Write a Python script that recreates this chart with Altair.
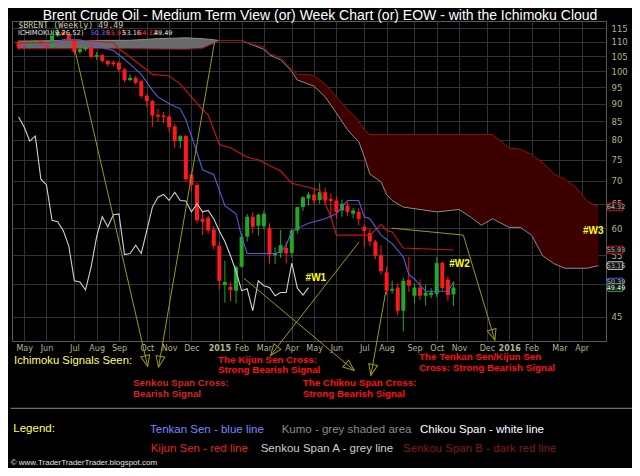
import altair as alt
import pandas as pd

# ---------------- weekly Brent candles (weeks starting Monday) ----------------
first_week = "2014-04-28"
opens = [110.0, 108.5, 108.0, 109.2, 110.3, 109.2, 108.4, 112.3, 113.6, 112.8,
         110.7, 106.5, 107.4, 108.2, 104.8, 105.4, 103.4, 103.0, 102.8, 100.6,
         97.2, 97.9, 96.8, 92.3, 90.8, 86.8, 86.6, 86.3, 83.6, 79.7,
         81.0, 71.5, 69.1, 61.9, 62.1, 59.8, 56.7, 49.9, 49.6, 49.0,
         53.0, 58.4, 62.3, 60.5, 60.4, 60.0, 55.0, 55.4, 56.3, 55.4,
         59.6, 64.3, 66.1, 67.0, 65.8, 67.5, 66.0, 65.7, 63.6, 64.6,
         62.9, 63.3, 60.3, 59.1, 57.5, 55.0, 52.0, 49.0, 49.5, 45.9,
         50.7, 48.2, 49.5, 48.2, 48.3, 48.5, 53.6, 50.8, 48.4]
highs = [110.6, 109.5, 110.0, 110.8, 110.5, 109.8, 113.2, 115.0, 114.5, 113.0,
         111.0, 108.3, 108.8, 108.6, 106.5, 106.0, 103.9, 103.6, 103.4, 101.0,
         99.0, 98.5, 97.3, 93.0, 91.0, 88.5, 87.6, 86.9, 84.3, 81.3,
         81.3, 72.2, 69.6, 63.5, 62.5, 60.5, 57.3, 54.0, 50.3, 53.2,
         59.0, 62.9, 63.2, 63.0, 63.6, 61.0, 56.4, 59.7, 57.5, 59.9,
         64.4, 66.6, 67.6, 68.3, 69.5, 68.5, 67.2, 66.6, 65.9, 65.4,
         64.1, 64.0, 60.8, 59.9, 57.8, 56.8, 53.0, 50.6, 50.2, 51.1,
         54.7, 50.1, 50.8, 49.9, 49.4, 54.7, 53.9, 51.3, 50.5]
lows = [107.3, 107.4, 107.6, 108.8, 108.6, 107.7, 108.0, 111.8, 112.3, 110.2,
        105.5, 105.7, 106.8, 104.2, 103.8, 102.8, 101.6, 101.6, 99.9, 96.5,
        96.8, 95.8, 91.6, 89.0, 83.5, 84.8, 84.5, 82.0, 77.9, 77.8,
        69.9, 67.6, 61.0, 58.7, 59.0, 56.0, 49.2, 47.1, 47.3, 47.0,
        52.8, 57.5, 59.0, 58.6, 59.8, 53.5, 53.4, 54.5, 53.5, 54.6,
        59.0, 63.5, 64.6, 64.9, 65.0, 64.9, 62.0, 61.9, 62.3, 62.5,
        62.0, 60.6, 56.5, 56.7, 54.3, 51.6, 48.3, 48.5, 45.2, 42.9,
        48.8, 47.0, 47.5, 46.7, 47.8, 48.0, 49.0, 47.4, 46.6]
closes = [108.0, 108.0, 109.2, 110.3, 109.2, 108.3, 112.3, 113.6, 112.8, 110.7,
          106.5, 107.5, 108.2, 104.8, 105.4, 103.4, 102.3, 102.3, 100.6, 97.2,
          97.9, 96.3, 92.3, 90.8, 86.6, 86.3, 86.2, 83.4, 79.7, 81.0,
          70.4, 69.1, 61.6, 61.3, 59.6, 56.7, 50.6, 50.4, 49.1, 52.9,
          58.4, 62.3, 60.3, 62.7, 62.9, 55.1, 55.3, 56.8, 55.3, 59.6,
          64.3, 66.4, 67.0, 65.7, 67.5, 65.7, 65.6, 63.3, 65.0, 63.3,
          63.6, 61.9, 59.5, 57.5, 54.9, 52.2, 49.0, 49.3, 45.9, 50.6,
          49.8, 49.5, 48.2, 48.7, 48.7, 53.6, 49.4, 48.3, 49.49]

# ---------------- Ichimoku lines (week index, value) ----------------
tenkan_idx = [0, 3, 6, 8, 11, 13, 15, 17, 19, 22, 24, 25, 27, 29, 30, 32, 33, 35, 37, 39,
              40, 41, 46, 47, 48, 49, 50, 52, 54, 55, 57, 59, 61, 62, 63, 65, 67, 69, 70, 71,
              73, 77, 78]
tenkan_val = [108.5, 108.6, 109.5, 110.8, 110.8, 109.5, 108.0, 107.0, 104.0, 99.0,
              94.0, 92.0, 90.0, 88.5, 85.4, 76.8, 72.6, 71.5, 64.6, 62.9,
              58.4, 55.3, 55.3, 55.6, 56.8, 59.4, 60.0, 61.0, 61.6, 61.9,
              62.9, 65.7, 65.7, 62.3, 61.9, 58.7, 57.1, 54.7, 51.6, 50.9,
              48.9, 48.9, 50.39]
kijun_idx = [0, 6, 8, 12, 17, 18, 19, 23, 24, 27, 29, 31, 33, 34, 35, 36, 38, 41, 43, 45,
             47, 49, 52, 54, 55, 56, 57, 63, 65, 66, 67, 69, 78]
kijun_val = [109.6, 109.8, 110.7, 110.5, 109.8, 107.5, 106.2, 100.4, 99.0, 98.5,
             95.9, 92.0, 88.3, 86.8, 82.7, 78.8, 78.0, 75.6, 75.0, 73.6,
             72.3, 69.5, 68.6, 67.9, 65.0, 62.3, 58.7, 58.7, 60.8, 59.6,
             59.3, 56.3, 55.93]
cloud_idx = [0, 8, 20, 25, 30, 33, 35, 36, 40, 42, 44, 45, 47, 49, 50, 52, 53, 55, 57, 59,
             60, 61, 62, 63, 65, 66, 67, 69, 75, 79, 81, 83, 85, 88, 90, 92, 94, 96, 98, 100,
             102, 104]
senkou_a = [110.3, 110.5, 110.6, 111.2, 111.5, 111.2, 110.8, 110.5, 110.5, 108.9,
            107.4, 105.5, 103.8, 100.0, 97.2, 95.9, 95.3, 92.0, 87.3, 82.7,
            81.0, 79.6, 75.8, 71.6, 69.8, 67.0, 65.7, 64.3, 63.3, 63.8,
            62.3, 60.6, 61.9, 60.2, 60.2, 58.7, 54.9, 53.5, 52.7, 52.7,
            52.7, 53.16]
senkou_b = [107.6, 107.6, 107.6, 107.5, 107.4, 107.8, 109.5, 110.5, 110.5, 109.2,
            108.2, 106.0, 104.5, 100.6, 99.0, 99.0, 98.5, 95.9, 92.0, 88.3,
            86.8, 85.0, 82.7, 81.4, 81.4, 81.4, 81.4, 81.4, 81.4, 81.4,
            81.4, 81.4, 81.4, 77.9, 77.6, 76.3, 74.3, 71.6, 70.4, 68.5,
            65.5, 64.32]
chikou_shift = 26

# ---------------- axis ticks ----------------
month_ticks = ["2014-05-05", "2014-06-02", "2014-07-07", "2014-08-04", "2014-09-01", "2014-10-06",
               "2014-11-03", "2014-12-01", "2015-01-05", "2015-02-02", "2015-03-02", "2015-04-06",
               "2015-05-04", "2015-06-01", "2015-07-06", "2015-08-03", "2015-09-07", "2015-10-05",
               "2015-11-02", "2015-12-07", "2016-01-04", "2016-02-01", "2016-03-07", "2016-04-04"]
price_ticks = [45, 50, 55, 60, 65, 70, 75, 80, 85, 90, 95, 100, 105, 110, 115]

# ---------------- hand-drawn annotations (date, price) ----------------
ann_seg = [1, 1, 2, 2, 3, 3, 4, 4, 5, 5, 6, 6, 6]
ann_date = ["2014-07-07T17:00", "2014-10-07T02:00", "2014-12-30T00:00", "2014-10-20T17:00",
            "2015-06-29T12:00", "2015-03-10T10:00", "2015-02-05T00:00", "2015-06-23T10:00",
            "2015-08-01T22:00", "2015-07-14T07:00", "2015-08-09T07:00", "2015-11-07T10:00",
            "2015-12-17T00:00"]
ann_price = [107.2, 38.3, 110.0, 38.2, 57.4, 39.7, 51.0, 37.8, 48.8, 37.2, 60.05, 58.7, 41.7]
arrow_date = ["2014-10-07T02:00", "2014-10-20T17:00", "2015-03-10T10:00", "2015-06-23T10:00",
              "2015-07-14T07:00", "2015-12-17T00:00"]
arrow_price = [38.3, 38.2, 39.7, 37.8, 37.2, 41.7]
arrow_angle = [347, 10, 38, 309, 12, 343]
wave_label = ["#W1", "#W2", "#W3"]
wave_date = ["2015-05-06T05:00", "2015-11-02T12:00", "2016-04-18T10:00"]
wave_price = [51.0, 53.4, 59.5]

# ---------------- tables ----------------
base = pd.Timestamp(first_week)


def wk(i):
    return base + pd.Timedelta(days=7 * i)


candles = pd.DataFrame({"date": [wk(i) for i in range(len(closes))],
                        "open": opens, "high": highs, "low": lows, "close": closes})
chikou = pd.DataFrame({"date": [wk(j) for j in range(len(closes) - chikou_shift)],
                       "price": closes[chikou_shift:]})
tenkan = pd.DataFrame({"date": [wk(i) for i in tenkan_idx], "price": tenkan_val})
kijun = pd.DataFrame({"date": [wk(i) for i in kijun_idx], "price": kijun_val})
cloud = pd.DataFrame({"idx": cloud_idx, "date": [wk(i) for i in cloud_idx],
                      "a": senkou_a, "b": senkou_b})
ann = pd.DataFrame({"seg": ann_seg, "order": list(range(len(ann_seg))),
                    "date": pd.to_datetime(ann_date), "price": ann_price})
arrows = pd.DataFrame({"date": pd.to_datetime(arrow_date), "price": arrow_price,
                       "angle": arrow_angle})
waves = pd.DataFrame({"label": wave_label, "date": pd.to_datetime(wave_date), "price": wave_price})
tags = pd.DataFrame({
    "price": [senkou_b[-1], kijun_val[-1], senkou_a[-1], tenkan_val[-1], closes[-1]],
    "stroke": ["#c81010", "#c81010", "#c8c8c8", "#5050e0", "#20a020"],
    "tcolor": ["#b0b0b0", "#b0b0b0", "#b0b0b0", "#b0b0b0", "#e8e8e8"],
})
tags["label"] = tags["price"].map(lambda v: f"{v:.2f}")
dummy = pd.DataFrame({"k": [0]})

# ---------------- scales & axes ----------------
AXC = "#b4b48c"
GRID = "#333333"
xscale = alt.Scale(domain=[alt.DateTime(year=2014, month=4, date=26),
                           alt.DateTime(year=2016, month=4, date=28, hours=5)], nice=False)
yscale = alt.Scale(type="log", domain=[41.6, 117.76], nice=False, zero=False)
xaxis = alt.Axis(values=[alt.DateTime(year=int(s[:4]), month=int(s[5:7]), date=int(s[8:10]))
                         for s in month_ticks],
                 labelExpr="month(datum.value) == 0 ? timeFormat(datum.value, '%Y') : timeFormat(datum.value, '%b')",
                 labelFontWeight={"condition": {"test": "month(datum.value) == 0", "value": "bold"},
                                  "value": "normal"},
                 grid=True, gridColor=GRID, ticks=False, domain=False, labelColor=AXC,
                 labelFont="DejaVu Sans", labelFontSize=8, labelPadding=3, labelFlush=False,
                 labelOverlap=False, title=None)
# the "50" label sits under the price tags in the reference, so only its gridline shows
yaxis = alt.Axis(orient="right", values=price_ticks, format="d", grid=True, gridColor=GRID,
                 labelExpr="datum.value == 50 ? '' : datum.label",
                 ticks=False, domain=False, labelColor=AXC, labelFont="DejaVu Sans",
                 labelFontSize=8.5, labelPadding=5, labelFlush=False, labelOverlap=False,
                 title=None)


def X(f):
    return alt.X(f"{f}:T", scale=xscale, axis=xaxis)


def Y(f):
    return alt.Y(f"{f}:Q", scale=yscale, axis=yaxis)


def txt(s, x, y, color, size, weight="normal", font="Liberation Sans", align="left",
        baseline="middle"):
    return alt.Chart(dummy).mark_text(text=s, color=color, fontSize=size, fontWeight=weight,
                                      font=font, align=align, baseline=baseline).encode(
        x=alt.value(x), y=alt.value(y))


# ---------------- layers ----------------
cloud_grey = alt.Chart(cloud).transform_filter("datum.idx <= 36").mark_area(
    color="#6a6a6a", opacity=1).encode(x=X("date"), y=Y("a"), y2="b")
cloud_red = alt.Chart(cloud).transform_filter("datum.idx >= 36").mark_area(
    color="#3c0000", opacity=1).encode(x=X("date"), y=Y("a"), y2="b")
line_a = alt.Chart(cloud).mark_line(color="#8c8c8c", strokeWidth=1).encode(x=X("date"), y=Y("a"))
line_b = alt.Chart(cloud).mark_line(color="#8e1010", strokeWidth=1).encode(x=X("date"), y=Y("b"))

up = "datum.close >= datum.open"
wicks = alt.Chart(candles).mark_rule(strokeWidth=1).encode(
    x=X("date"), y=Y("low"), y2="high",
    color=alt.condition(up, alt.value("#22a822"), alt.value("#ff1a1a")))
bodies = alt.Chart(candles).mark_bar(width=4).encode(
    x=X("date"), y=Y("open"), y2="close",
    color=alt.condition(up, alt.value("#22a822"), alt.value("#ff1a1a")))

chikou_line = alt.Chart(chikou).mark_line(color="#d0d0d0", strokeWidth=1.1).encode(
    x=X("date"), y=Y("price"))
kijun_line = alt.Chart(kijun).mark_line(color="#cc1515", strokeWidth=1.1).encode(
    x=X("date"), y=Y("price"))
tenkan_line = alt.Chart(tenkan).mark_line(color="#5a5ad8", strokeWidth=1.1).encode(
    x=X("date"), y=Y("price"))

OLIVE = "#9a9a14"
ann_lines = alt.Chart(ann).mark_line(color=OLIVE, strokeWidth=1, clip=False).encode(
    x=X("date"), y=Y("price"), detail="seg:N", order="order:Q")
ann_heads = alt.Chart(arrows).mark_point(
    shape="M0,0L-0.9,-2.2L0.9,-2.2Z", size=100, filled=False, color=OLIVE, strokeWidth=1,
    opacity=1, clip=False).encode(x=X("date"), y=Y("price"), angle=alt.Angle("angle:Q", scale=None))
wave_text = alt.Chart(waves).mark_text(color="#ffff00", fontSize=10, fontWeight="bold",
                                       font="Liberation Sans", clip=False).encode(
    x=X("date"), y=Y("price"), text="label:N")

tag_shapes = alt.Chart(tags).mark_point(
    shape="M-2.2,0L-1.8,-0.95L1.9,-0.95L1.9,0.95L-1.8,0.95Z", size=64, filled=True,
    fill="#141414", strokeWidth=1, opacity=1, clip=False).encode(
    x=alt.value(603.2), y=Y("price"), stroke=alt.Color("stroke:N", scale=None))
tag_text = alt.Chart(tags).mark_text(fontSize=6.5, font="DejaVu Sans", clip=False).encode(
    x=alt.value(604), y=Y("price"), text="label:N", color=alt.Color("tcolor:N", scale=None))

texts = [
    txt("Brent Crude Oil - Medium Term View (or) Week Chart (or) EOW - with the Ichimoku Cloud",
        308, -12, "#ffffff", 14, align="center", baseline="top"),
    txt("$BRENT (Weekly) 49.49", 6.3, 4.6, "#c8c8a0", 8.3, font="DejaVu Sans Mono"),
    txt("ICHIMOKU(9,26,52)", 6.0, 12.3, "#e0e0e0", 6.8, font="DejaVu Sans"),
    txt("50.39", 78.7, 12.3, "#6a6aff", 6.5, font="DejaVu Sans"),
    txt("55.93", 94.5, 12.3, "#ff3030", 6.5, font="DejaVu Sans"),
    txt("53.16", 110.3, 12.3, "#e0e0e0", 6.5, font="DejaVu Sans"),
    txt("64.32", 126.1, 12.3, "#ff3030", 6.5, font="DejaVu Sans"),
    txt("49.49", 141.9, 12.3, "#e0e0e0", 6.5, font="DejaVu Sans"),
    txt("Ichimoku Signals Seen:", 2, 340, "#ffff70", 11.3),
    txt("The Kijun Sen Cross:", 206, 338.7, "#ff1010", 9.8, "bold"),
    txt("Strong Bearish Signal", 206, 349.3, "#ff1010", 9.8, "bold"),
    txt("The Tenkan Sen/Kijun Sen", 407, 335.5, "#ff1010", 9.8, "bold"),
    txt("Cross: Strong Bearish Signal", 407, 346.5, "#ff1010", 9.8, "bold"),
    txt("Senkou Span Cross:", 121, 362, "#d42424", 9.8, "bold"),
    txt("Bearish Signal", 121, 372.7, "#d42424", 9.8, "bold"),
    txt("The Chikou Span Cross:", 290.7, 362, "#ff1010", 9.8, "bold"),
    txt("Strong Bearish Signal", 290.7, 372.7, "#ff1010", 9.8, "bold"),
    txt("Legend:", 1.3, 408.3, "#ffff66", 11.5),
    txt("Tenkan Sen - blue line", 138, 409, "#8080ff", 11.5),
    txt("Kumo - grey shaded area", 269.7, 409, "#8c8c8c", 11.5),
    txt("Chikou Span - white line", 408, 409, "#ffffff", 11.5),
    txt("Kijun Sen - red line", 138.7, 427.7, "#e02424", 11.5),
    txt("Senkou Span A - grey line", 248.7, 427.7, "#d0d0d0", 11.5),
    txt("Senkou Span B - dark red line", 391, 427.7, "#861818", 11.5),
    txt("\u00a9 www.TraderTraderTrader.blogspot.com", -1.3, 442, "#e0e0e0", 8),
]
separator = alt.Chart(dummy).mark_rule(color="#8a8a8a", strokeWidth=1).encode(
    x=alt.value(-1.3), x2=alt.value(628), y=alt.value(387.3))

chart = alt.layer(
    cloud_grey, cloud_red, line_a, line_b, wicks, bodies, chikou_line, kijun_line, tenkan_line,
    ann_lines, ann_heads, wave_text, tag_shapes, tag_text, separator, *texts
).properties(
    width=594, height=320,
    padding={"left": 4, "top": 13, "right": 26, "bottom": 127},
    autosize=alt.AutoSizeParams(type="none"),
    background="#000000",
).configure_view(fill="#000000", stroke="#5a5a5a", strokeWidth=1)

chart.save("out.html", embed_options={"renderer": "svg", "actions": False})
